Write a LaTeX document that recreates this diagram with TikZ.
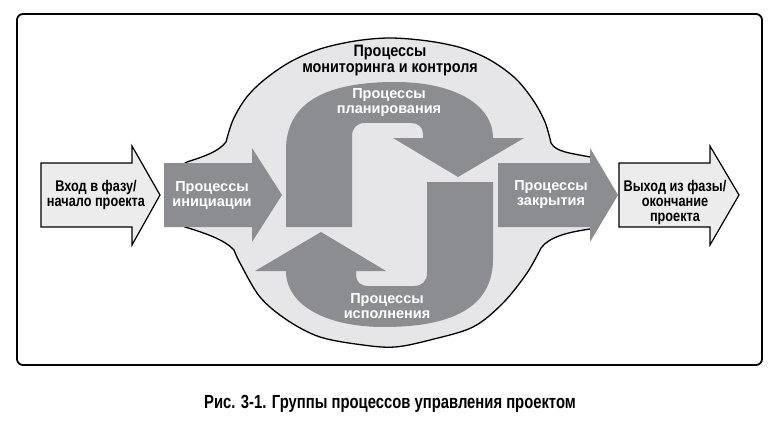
\documentclass[tikz,border=0pt]{standalone}
\usepackage{fontspec}
\setmainfont{Liberation Sans}
\newfontfamily\condA{Liberation Sans}[FakeStretch=0.82]
\newfontfamily\condB{Liberation Sans}[FakeStretch=0.87]
\newfontfamily\condC{Liberation Sans}[FakeStretch=0.78]
\definecolor{darkg}{RGB}{140,141,145}
\definecolor{cloudg}{RGB}{230,230,232}
\definecolor{lightg}{RGB}{236,236,236}
\tikzset{
  frame/.style={draw=black, line width=1.8pt, rounded corners=6pt},
  cloud/.style={fill=cloudg, draw=black, line width=1.3pt, line join=round},
  outarrow/.style={fill=lightg, draw=black, line width=1.2pt, line join=miter},
  darkarrow/.style={fill=darkg},
  whitelbl/.style={text=white, align=center, inner sep=0pt, font=\fontsize{14.5}{15}\selectfont\bfseries},
  blacklbl/.style={text=black, align=center, inner sep=0pt, font=\condA\fontsize{15.5}{15}\selectfont\bfseries},
  toplbl/.style={text=black, align=center, inner sep=0pt, font=\condB\fontsize{16.5}{16}\selectfont\bfseries},
  caplbl/.style={text=black, inner sep=0pt, font=\condC\fontsize{19}{21}\selectfont\bfseries}
}
\begin{document}
\begin{tikzpicture}[x=1pt, y=-1pt]
\useasboundingbox (0,0) rectangle (780,428);
\fill[white] (0,0) rectangle (780,428);
% frame
\draw[frame] (17,14) rectangle (762,365);
% cloud (monitoring and control)
\path[cloud] (180,166) -- (187,162) .. controls (205,156) and (218,152) .. (226,142)
  -- plot[smooth, tension=0.55] coordinates {(226,142) (233,120) (246,98) (264,80) (290,62) (320,49) (355,41) (390,38) (428,41) (462,48) (490,60) (515,78) (533,100) (545,122) (551,143)}
  .. controls (556,152) and (570,153) .. (590,157) -- (596,160) -- (596,226) -- (590,229)
  .. controls (570,232) and (550,236) .. (541,248)
  -- plot[smooth, tension=0.55] coordinates {(541,248) (527,273) (503,303) (473,327) (430,340) (395,347) (363,345) (320,337) (287,320) (260,297) (240,263) (234,250)}
  .. controls (225,240) and (205,233) .. (185,227) -- (180,224) -- cycle;
% outer light arrows
\path[outarrow] (41,163) -- (132,163) -- (132,146) -- (160,195) -- (132,245) -- (132,227) -- (41,227) -- cycle;
\path[outarrow] (619,163) -- (710,163) -- (710,146) -- (739,195) -- (710,245) -- (710,227) -- (619,227) -- cycle;
% initiation and closing arrows
\path[darkarrow] (164,163) -- (252,163) -- (252,148) -- (282,195) -- (252,242) -- (252,227) -- (164,227) -- cycle;
\path[darkarrow] (498,163) -- (590,163) -- (590,148) -- (618,195) -- (590,242) -- (590,227) -- (498,227) -- cycle;
% planning and executing arrows
\def\planpath{(286,227) -- (286,150) .. controls (286,100) and (330,82) .. (395,82)
  .. controls (455,82) and (493,105) .. (493,138) -- (524,138) -- (458,177) -- (393,138) -- (423,138)
  -- (423,134) .. controls (423,127) and (418,123) .. (411,123) -- (365,123)
  .. controls (357,123) and (352,128) .. (352,136) -- (352,227) -- cycle}
\path[darkarrow] \planpath;
\path[darkarrow, rotate around={180:(389.5,204.5)}] \planpath;
% labels
\node[toplbl] (mon) at (390,61) {Процессы\\мониторинга и контроля};
\node[whitelbl] (plan) at (389,103) {Процессы\\планирования};
\node[whitelbl] (exec) at (387,306) {Процессы\\исполнения};
\node[whitelbl] (init) at (212,195) {Процессы\\инициации};
\node[whitelbl] (close) at (551,195) {Процессы\\закрытия};
\node[blacklbl] (in) at (96,195) {Вход в фазу/\\начало проекта};
\node[blacklbl] (out) at (675,202) {Выход из фазы/\\окончание\\проекта};
\node[caplbl] (cap) at (390,404) {Рис. 3-1. Группы процессов управления проектом};
\end{tikzpicture}
\end{document}
